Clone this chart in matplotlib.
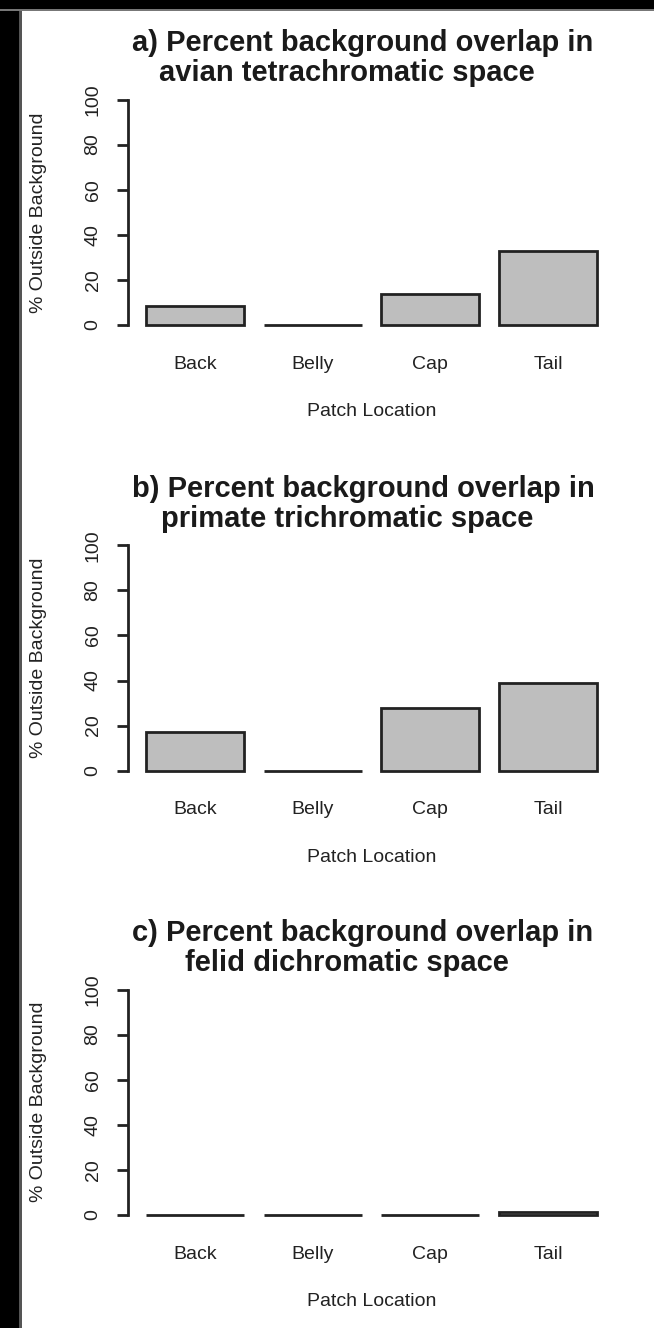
import matplotlib
matplotlib.use("Agg")
import matplotlib.pyplot as plt
from matplotlib.patches import Rectangle

plt.rcParams['font.family'] = ['Liberation Sans', 'DejaVu Sans']

# Data
patches = ["Back", "Belly", "Cap", "Tail"]
avian = [8.5, 0.0, 13.7, 32.7]
primate = [17.1, 0.0, 28.0, 38.8]
felid = [0.0, 0.0, 0.0, 1.5]
yticks = [0, 20, 40, 60, 80, 100]

titles = [
    ("a) Percent background overlap in", "avian tetrachromatic space"),
    ("b) Percent background overlap in", "primate trichromatic space"),
    ("c) Percent background overlap in", "felid dichromatic space"),
]
series = [avian, primate, felid]

W, H = 654, 1328
fig = plt.figure(figsize=(W / 100, H / 100), dpi=100)
fig.patch.set_facecolor("white")

# dark frame along the left and top edges
fig.patches.append(Rectangle((0, 0), 19 / W, 1, transform=fig.transFigure,
                             facecolor="black", edgecolor="none", zorder=0))
fig.patches.append(Rectangle((19 / W, 0), 3 / W, 1, transform=fig.transFigure,
                             facecolor="#555555", edgecolor="none", zorder=0))
fig.patches.append(Rectangle((0, 1 - 9 / H), 1, 9 / H, transform=fig.transFigure,
                             facecolor="black", edgecolor="none", zorder=0))
fig.patches.append(Rectangle((0, 1 - 11 / H), 1, 2 / H, transform=fig.transFigure,
                             facecolor="#777777", edgecolor="none", zorder=0))

# axes geometry (pixels): plot region left/right and y of the zero line
left_px, right_px = 128, 615
zero_px = [325, 770.7, 1215]
scale = 2.255  # pixels per percent

bar_w = 1.0
space = 0.2
xs = [space + i * (bar_w + space) + bar_w / 2 for i in range(len(patches))]
x_lo, x_hi = space, space + len(patches) * (bar_w + space) - space
pad = 0.04 * (x_hi - x_lo)

for k, (vals, (t1, t2)) in enumerate(zip(series, titles)):
    top_px = zero_px[k] - 104 * scale
    bot_px = zero_px[k] + 4 * scale
    ax = fig.add_axes([left_px / W, 1 - bot_px / H,
                       (right_px - left_px) / W, (bot_px - top_px) / H])
    ax.set_facecolor("none")
    ax.bar(xs, vals, width=bar_w, color="#BEBEBE", edgecolor="#222222",
           linewidth=2.0)
    ax.set_xlim(x_lo - pad, x_hi + pad)
    ax.set_ylim(-4, 104)
    for s in ["top", "right", "bottom"]:
        ax.spines[s].set_visible(False)
    ax.spines["left"].set_bounds(0, 100)
    ax.spines["left"].set_linewidth(2.0)
    ax.spines["left"].set_color("#222222")
    ax.set_yticks(yticks)
    ax.set_yticklabels([str(v) for v in yticks], rotation=90, va="center",
                       fontsize=14, color="#222222")
    ax.tick_params(axis="y", length=8, width=2.0, color="#222222", pad=11)
    ax.set_xticks(xs)
    ax.set_xticklabels(patches, fontsize=14, color="#222222")
    ax.tick_params(axis="x", length=0, pad=15.5)
    ax.set_xlabel("Patch Location", fontsize=14, color="#222222", labelpad=22)
    ax.set_ylabel("% Outside Background", fontsize=14, color="#222222",
                  labelpad=27)

    # two-line bold title
    y1 = zero_px[k] - 282
    y2 = zero_px[k] - 252
    fig.text(363 / W, 1 - y1 / H, t1, ha="center", va="center",
             fontsize=21, fontweight="bold", color="#1a1a1a")
    fig.text(347 / W, 1 - y2 / H, t2, ha="center", va="center",
             fontsize=21, fontweight="bold", color="#1a1a1a")

fig.savefig("out.png", dpi=100)
